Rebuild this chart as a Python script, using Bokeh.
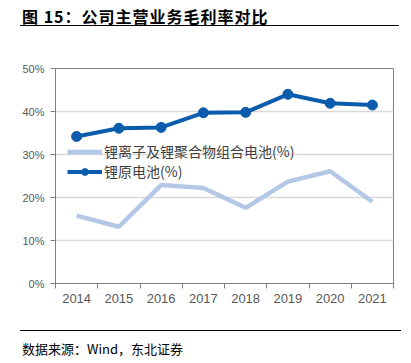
from bokeh.plotting import figure
from bokeh.models import (Range1d, FixedTicker, NumeralTickFormatter, Legend, LegendItem,
                          Div, ColumnDataSource)
from bokeh.layouts import column
from bokeh.embed import file_html
from bokeh.resources import INLINE

years = ["2014", "2015", "2016", "2017", "2018", "2019", "2020", "2021"]
li_ion = [0.158, 0.132, 0.229, 0.222, 0.176, 0.237, 0.261, 0.190]
li_primary = [0.342, 0.361, 0.363, 0.397, 0.398, 0.440, 0.419, 0.415]
name_ion = "锂离子及锂聚合物组合电池(%)"
name_primary = "锂原电池(%)"
title_text = "图 15：公司主营业务毛利率对比"
source_text = "数据来源：Wind，东北证券"
y_ticks = [0, 0.1, 0.2, 0.3, 0.4, 0.5]

xs = [i + 0.5 for i in range(len(years))]
src = ColumnDataSource(dict(x=xs, ion=li_ion, prim=li_primary))

p = figure(width=395, height=299, output_backend="svg", toolbar_location=None,
           x_range=Range1d(0, len(years)), y_range=Range1d(0, 0.5),
           min_border_left=47, min_border_right=10, min_border_top=40, min_border_bottom=44)
p.outline_line_color = "#808080"
p.outline_line_width = 1
p.background_fill_color = "white"
p.border_fill_color = "white"

# x axis
p.xaxis.ticker = FixedTicker(ticks=xs, minor_ticks=list(range(len(years) + 1)))
p.xaxis.major_label_overrides = {x: y for x, y in zip(xs, years)}
p.xaxis.major_tick_line_color = None
p.xaxis.major_tick_out = 0
p.xaxis.minor_tick_in = 0
p.xaxis.minor_tick_out = 5
p.xaxis.minor_tick_line_color = "#808080"
p.xaxis.axis_line_color = "#808080"
p.xaxis.major_label_text_font = "Liberation Sans"
p.xaxis.major_label_text_font_size = "13px"
p.xaxis.major_label_text_color = "#595959"
p.xaxis.major_label_standoff = 5
p.xgrid.grid_line_color = None

# y axis
p.yaxis.ticker = FixedTicker(ticks=y_ticks, minor_ticks=[])
p.yaxis.formatter = NumeralTickFormatter(format="0%")
p.yaxis.axis_line_color = "#808080"
p.yaxis.major_tick_line_color = "#808080"
p.yaxis.major_tick_in = 0
p.yaxis.major_tick_out = 5
p.yaxis.major_label_text_font = "Liberation Sans"
p.yaxis.major_label_text_font_size = "11px"
p.yaxis.major_label_text_color = "#595959"
p.yaxis.major_label_standoff = 6
p.ygrid.grid_line_color = "#D9D9D9"
p.ygrid.grid_line_width = 1.5

light = "#B4C7E7"
dark = "#0B5CAD"
r1 = p.line("x", "ion", source=src, line_color=light, line_width=4.5)
r2 = p.line("x", "prim", source=src, line_color=dark, line_width=4)
r3 = p.scatter("x", "prim", source=src, size=10, marker="circle", fill_color=dark, line_color=dark)

legend = Legend(items=[LegendItem(label=name_ion, renderers=[r1]),
                       LegendItem(label=name_primary, renderers=[r2, r3])],
                location=(12, 102), background_fill_alpha=0, border_line_color=None,
                glyph_width=35, glyph_height=17, label_height=17, label_standoff=2,
                padding=0, spacing=0, margin=0,
                label_text_font="Noto Sans CJK SC", label_text_font_size="14px",
                label_text_color="#404040")
p.add_layout(legend, "center")

title = Div(text=f'<div style="font-family:\'Noto Sans CJK SC\';font-weight:bold;font-size:16px;'
                 f'letter-spacing:1px;line-height:16px;height:18px;margin-left:12px;width:379px;'
                 f'padding-left:2px;border-bottom:1px solid #000;color:#000;white-space:nowrap;">{title_text}</div>',
            width=395, height=20, margin=0)
footer = Div(text=f'<div style="margin-top:3px;margin-left:12px;width:381px;border-top:1px solid #000;'
                  f'padding-top:11px;padding-left:2px;font-family:\'Noto Sans CJK SC\';font-size:13px;'
                  f'line-height:13px;color:#000;white-space:nowrap;">{source_text}</div>',
             width=395, height=28, margin=0)

layout = column(title, p, footer, spacing=0, margin=(8, 0, 0, 8))
open("out.html", "w").write(file_html(layout, INLINE))
